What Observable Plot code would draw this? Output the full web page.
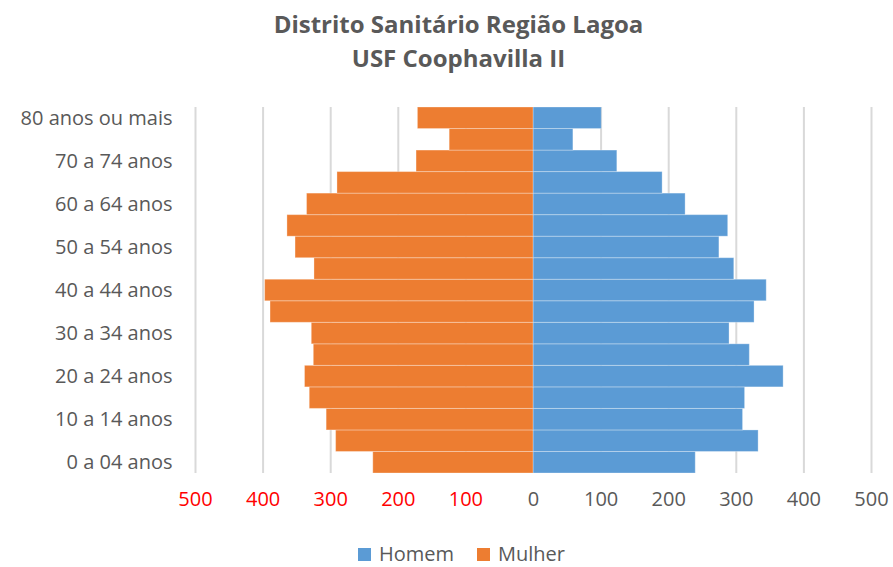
<!DOCTYPE html>
<html>
<head>
<meta charset="utf-8">
<script src="https://cdn.jsdelivr.net/npm/d3@7"></script>
<script src="https://cdn.jsdelivr.net/npm/@observablehq/plot@0.6"></script>
<style>
  html, body { margin: 0; padding: 0; background: #fff; }
  body { width: 893px; height: 567px; position: relative; overflow: hidden; font-family: "Open Sans", sans-serif; color: #595959; }
  #title { position: absolute; top: 7px; left: 0; width: 893px; text-align: center; font-weight: bold; font-size: 24px; line-height: 34px; color: #595959; transform: translateX(12px); }
  #chart { position: absolute; top: 85px; left: 0; }
  #legend { position: absolute; top: 543px; left: 358px; font-size: 20px; line-height: 22px; color: #595959; display: flex; align-items: center; }
  .sw { display: inline-block; width: 13px; height: 13px; margin-right: 8px; }
  .item { display: flex; align-items: center; margin-right: 23px; }
</style>
</head>
<body>
<div id="title">Distrito Sanitário Região Lagoa<br>USF Coophavilla II</div>
<div id="chart"></div>
<div id="legend">
  <span class="item"><span class="sw" style="background:#5b9bd5"></span>Homem</span>
  <span class="item"><span class="sw" style="background:#ed7d31"></span>Mulher</span>
</div>
<script>
const ageGroups = ["0 a 04 anos","05 a 09 anos","10 a 14 anos","15 a 19 anos","20 a 24 anos","25 a 29 anos","30 a 34 anos","35 a 39 anos","40 a 44 anos","45 a 49 anos","50 a 54 anos","55 a 59 anos","60 a 64 anos","65 a 69 anos","70 a 74 anos","75 a 79 anos","80 anos ou mais"];
const homem  = [240, 333, 310, 313, 370, 320, 290, 327, 345, 297, 275, 288, 225, 191, 124, 59, 101];
const mulher = [237, 292, 306, 331, 338, 325, 328, 389, 397, 324, 352, 364, 335, 290, 173, 124, 171];
const labeledAges = ["0 a 04 anos","10 a 14 anos","20 a 24 anos","30 a 34 anos","40 a 44 anos","50 a 54 anos","60 a 64 anos","70 a 74 anos","80 anos ou mais"];
const xTicks = [-500,-400,-300,-200,-100,0,100,200,300,400,500];

const rows = [];
ageGroups.forEach((a, i) => {
  rows.push({age: a, sexo: "Homem", v: homem[i]});
  rows.push({age: a, sexo: "Mulher", v: -mulher[i]});
});

const chart = Plot.plot({
  width: 893,
  height: 440,
  marginLeft: 195,
  marginRight: 22,
  marginTop: 22,
  marginBottom: 52,
  style: {fontFamily: "Open Sans, sans-serif", fontSize: "20px", color: "#595959", background: "#fff"},
  x: {domain: [-500, 500]},
  y: {domain: ageGroups.slice().reverse(), padding: 0, round: false},
  marks: [
    Plot.ruleX(xTicks, {stroke: "#d9d9d9", strokeWidth: 2}),
    Plot.barX(rows, {
      x: "v", y: "age",
      fill: d => d.sexo === "Homem" ? "#5b9bd5" : "#ed7d31",
      stroke: "#ffffff", strokeWidth: 1, strokeOpacity: 0.3
    }),
    Plot.axisY({ticks: labeledAges, tickSize: 0, tickPadding: 23, label: null, fill: "#595959", fontSize: 20}),
    Plot.axisX({ticks: xTicks.filter(t => t < 0), tickSize: 0, tickPadding: 18, tickFormat: d => Math.abs(d), label: null, fill: "#ff0000", fontSize: 20}),
    Plot.axisX({ticks: xTicks.filter(t => t >= 0), tickSize: 0, tickPadding: 18, tickFormat: d => Math.abs(d), label: null, fill: "#595959", fontSize: 20})
  ]
});
document.getElementById("chart").appendChild(chart);
</script>
</body>
</html>
